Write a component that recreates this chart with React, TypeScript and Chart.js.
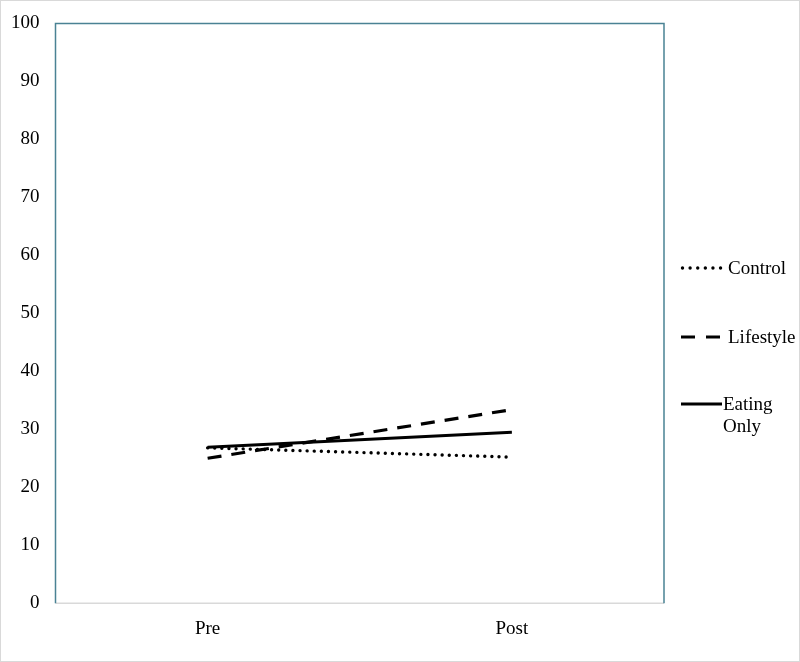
import React, { useEffect, useRef } from "react";
import { Chart, registerables } from "chart.js";

Chart.register(...registerables);

const categories = ["Pre", "Post"];
const seriesNames = ["Control", "Lifestyle", "Eating Only"];
const controlValues = [26.8, 25.2];
const lifestyleValues = [25.0, 33.4];
const eatingOnlyValues = [26.9, 29.5];
const yTicks = [0, 10, 20, 30, 40, 50, 60, 70, 80, 90, 100];

const FONT = "'Liberation Serif', 'Times New Roman', serif";

const frameAndLegend = {
  id: "frameAndLegend",
  afterDraw(chart: any) {
    const { ctx, chartArea } = chart;
    const { left, top, right, bottom } = chartArea;
    ctx.save();
    // bottom axis
    ctx.strokeStyle = "#d9d9d9";
    ctx.lineWidth = 1.5;
    ctx.setLineDash([]);
    ctx.beginPath();
    ctx.moveTo(left, bottom);
    ctx.lineTo(right, bottom);
    ctx.stroke();
    // teal frame
    ctx.strokeStyle = "#4a8294";
    ctx.lineWidth = 1.5;
    ctx.beginPath();
    ctx.moveTo(left, bottom);
    ctx.lineTo(left, top);
    ctx.lineTo(right, top);
    ctx.lineTo(right, bottom);
    ctx.stroke();

    // legend
    const x0 = right + 17;
    const x1 = x0 + 41;
    const tx = x1 + 6;
    const ys = [267, 336, 403];
    ctx.font = `19px ${FONT}`;
    ctx.fillStyle = "#000";
    ctx.textBaseline = "middle";
    chart.data.datasets.forEach((ds: any, i: number) => {
      const y = ys[i];
      ctx.strokeStyle = ds.borderColor;
      ctx.lineWidth = ds.borderWidth;
      ctx.lineCap = ds.borderCapStyle || "butt";
      ctx.setLineDash(ds.legendDash || ds.borderDash || []);
      ctx.beginPath();
      ctx.moveTo(x0 + (i === 0 ? 1.5 : 0), y);
      ctx.lineTo(x1, y);
      ctx.stroke();
      ctx.setLineDash([]);
      const words = String(ds.label).split(" ");
      const lines: string[] = [];
      let cur = "";
      const maxW = 70;
      words.forEach((w) => {
        const test = cur ? cur + " " + w : w;
        if (ctx.measureText(test).width > maxW && cur) {
          lines.push(cur);
          cur = w;
        } else cur = test;
      });
      if (cur) lines.push(cur);
      lines.forEach((ln, j) => {
        ctx.fillText(ln, i === 2 ? x1 + 1 : tx, y + 1 + j * 22);
      });
    });
    ctx.restore();
  },
};

export default function App() {
  const ref = useRef<HTMLCanvasElement | null>(null);
  useEffect(() => {
    document.body.style.margin = "0";
    const chart = new Chart(ref.current as HTMLCanvasElement, {
      type: "line",
      data: {
        labels: categories,
        datasets: [
          {
            label: seriesNames[0],
            data: controlValues,
            borderColor: "#000",
            borderWidth: 3.4,
            borderCapStyle: "round",
            borderDash: [0.01, 7.1],
            legendDash: [0.01, 7.6],
            pointRadius: 0,
            fill: false,
          } as any,
          {
            label: seriesNames[1],
            data: lifestyleValues,
            borderColor: "#000",
            borderWidth: 3.2,
            borderDash: [14, 10],
            legendDash: [14, 11],
            pointRadius: 0,
            fill: false,
          } as any,
          {
            label: seriesNames[2],
            data: eatingOnlyValues,
            borderColor: "#000",
            borderWidth: 3,
            pointRadius: 0,
            fill: false,
          } as any,
        ],
      },
      options: {
        animation: false,
        responsive: false,
        maintainAspectRatio: false,
        layout: { padding: { left: 0, right: 135, top: 22.5, bottom: 7 } },
        plugins: { legend: { display: false }, tooltip: { enabled: false } },
        scales: {
          x: {
            offset: true,
            grid: { display: false, drawTicks: false },
            border: { display: false },
            ticks: { color: "#000", font: { family: FONT, size: 19 }, padding: 14 },
          },
          y: {
            min: 0,
            max: 100,
            afterBuildTicks: (scale: any) => {
              scale.ticks = yTicks.map((v) => ({ value: v }));
            },
            afterFit: (scale: any) => {
              scale.width = 54.5;
              scale.paddingTop = 0;
              scale.paddingBottom = 0;
            },
            grid: { display: false, drawTicks: false },
            border: { display: false },
            ticks: { color: "#000", font: { family: FONT, size: 19 }, padding: 16 },
          },
        },
      },
      plugins: [frameAndLegend],
    });
    return () => chart.destroy();
  }, []);
  return (
    <div
      style={{
        width: 800,
        height: 662,
        boxSizing: "border-box",
        border: "1px solid #d9d9d9",
        background: "#fff",
      }}
    >
      <canvas ref={ref} width={798} height={660} style={{ display: "block" }} />
    </div>
  );
}
